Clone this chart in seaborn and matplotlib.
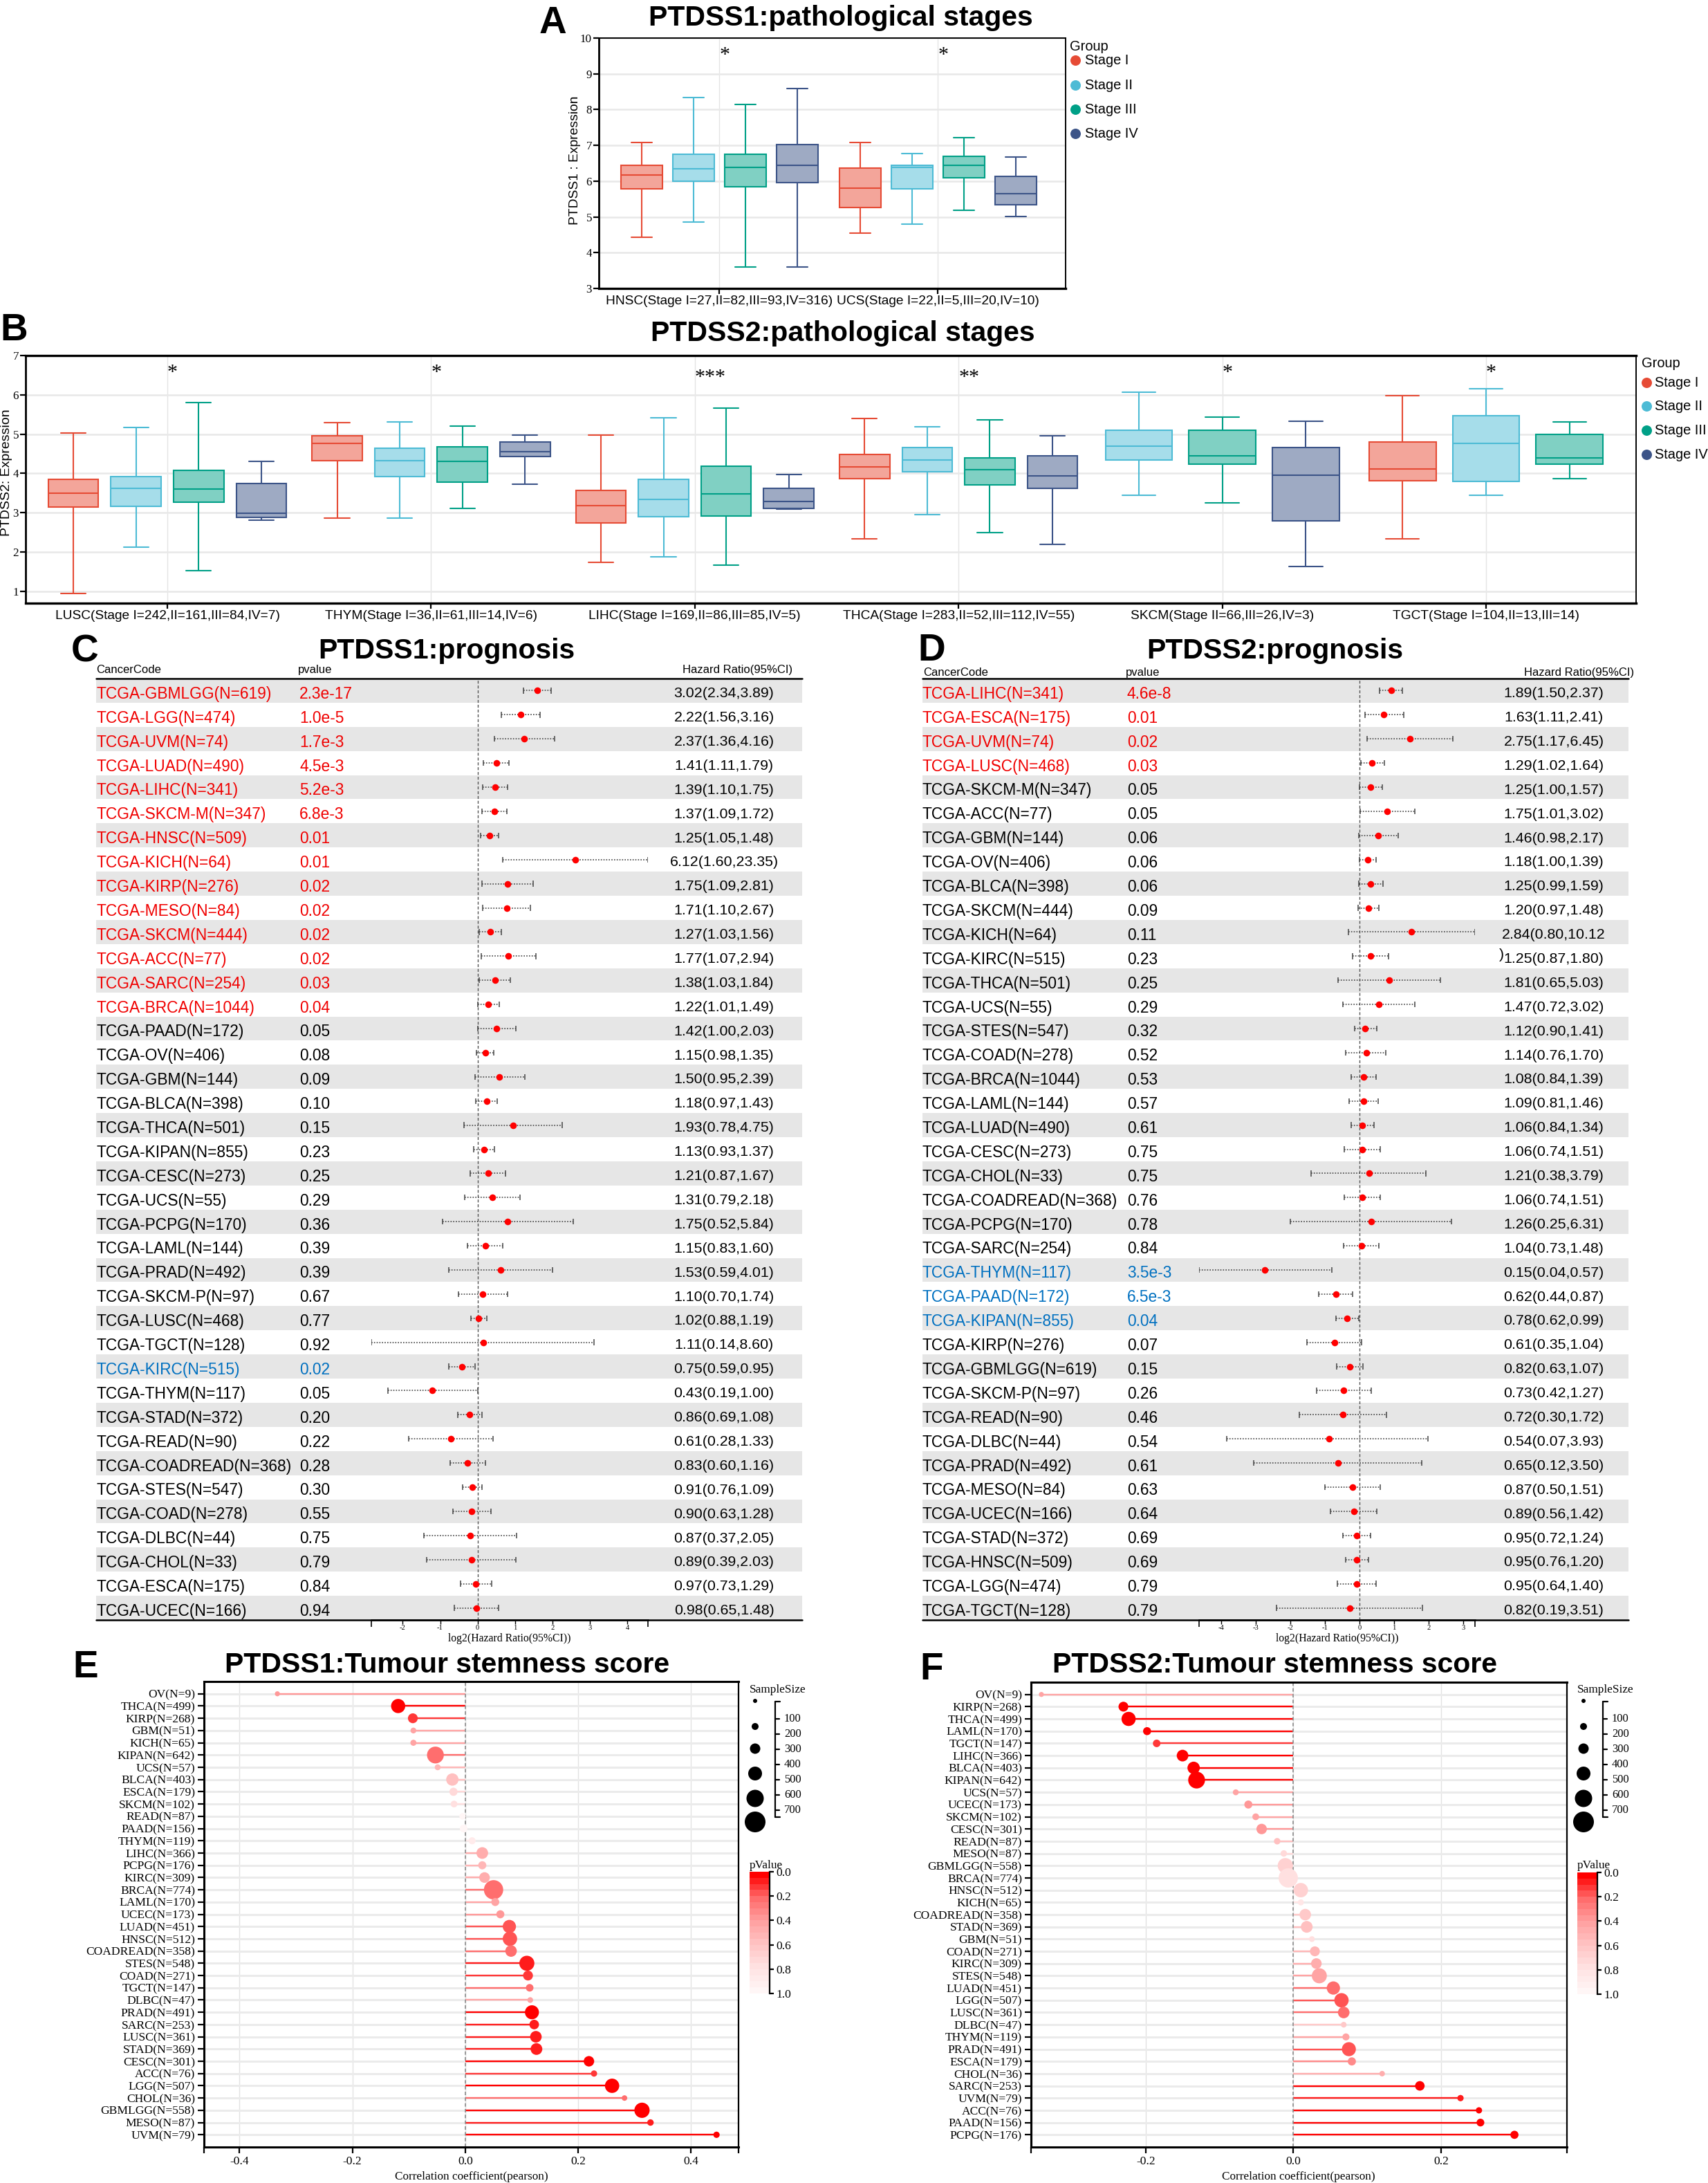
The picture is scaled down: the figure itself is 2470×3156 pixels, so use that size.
import numpy as np
import matplotlib
matplotlib.use("Agg")
import matplotlib.pyplot as plt
import seaborn as sns
from matplotlib.colors import LinearSegmentedColormap, to_rgb

# ============================ DATA ============================
stage_names = ["Stage I", "Stage II", "Stage III", "Stage IV"]

# Panel A : five-number summaries (min, q1, median, q3, max)
a_groups = ["HNSC(Stage I=27,II=82,III=93,IV=316)", "UCS(Stage I=22,II=5,III=20,IV=10)"]
a_group_stages = [[0, 1, 2, 3], [0, 1, 2, 3]]
a_hnsc = [[4.44, 5.79, 6.18, 6.44, 7.08], [4.85, 6.00, 6.34, 6.76, 8.34],
          [3.59, 5.85, 6.38, 6.75, 8.15], [3.59, 5.95, 6.45, 7.03, 8.59]]
a_ucs = [[4.55, 5.26, 5.81, 6.37, 7.08], [4.80, 5.78, 6.38, 6.45, 6.78],
         [5.19, 6.10, 6.44, 6.70, 7.21], [5.02, 5.34, 5.65, 6.14, 6.68]]
a_stars = ["*", "*"]

# Panel B
b_groups = ["LUSC(Stage I=242,II=161,III=84,IV=7)", "THYM(Stage I=36,II=61,III=14,IV=6)",
            "LIHC(Stage I=169,II=86,III=85,IV=5)", "THCA(Stage I=283,II=52,III=112,IV=55)",
            "SKCM(Stage II=66,III=26,IV=3)", "TGCT(Stage I=104,II=13,III=14)"]
b_group_stages = [[0, 1, 2, 3], [0, 1, 2, 3], [0, 1, 2, 3], [0, 1, 2, 3], [1, 2, 3], [0, 1, 2]]
b_lusc = [[0.94, 3.15, 3.49, 3.85, 5.03], [2.12, 3.16, 3.61, 3.91, 5.16],
          [1.52, 3.26, 3.60, 4.08, 5.81], [2.80, 2.88, 2.98, 3.75, 4.31]]
b_thym = [[2.87, 4.32, 4.76, 4.96, 5.29], [2.86, 3.91, 4.32, 4.64, 5.31],
          [3.11, 3.78, 4.31, 4.67, 5.21], [3.72, 4.43, 4.56, 4.79, 4.98]]
b_lihc = [[1.74, 2.74, 3.18, 3.56, 4.98], [1.87, 2.89, 3.34, 3.84, 5.41],
          [1.66, 2.92, 3.47, 4.19, 5.66], [3.09, 3.11, 3.28, 3.61, 3.97]]
b_thca = [[2.33, 3.86, 4.17, 4.48, 5.40], [2.95, 4.05, 4.34, 4.65, 5.18],
          [2.49, 3.71, 4.09, 4.40, 5.36], [2.19, 3.61, 3.93, 4.45, 4.96]]
b_skcm = [[3.45, 4.34, 4.69, 5.09, 6.06], [3.24, 4.24, 4.45, 5.09, 5.44],
          [1.62, 2.79, 3.96, 4.65, 5.33]]
b_tgct = [[2.33, 3.81, 4.11, 4.79, 5.98], [3.45, 3.80, 4.76, 5.47, 6.15],
          [3.86, 4.24, 4.40, 4.99, 5.31]]
b_stars = ["*", "*", "***", "**", "*", "*"]

# Panel C : PTDSS1 prognosis
c_labels = ["TCGA-GBMLGG(N=619)", "TCGA-LGG(N=474)", "TCGA-UVM(N=74)", "TCGA-LUAD(N=490)",
            "TCGA-LIHC(N=341)", "TCGA-SKCM-M(N=347)", "TCGA-HNSC(N=509)", "TCGA-KICH(N=64)",
            "TCGA-KIRP(N=276)", "TCGA-MESO(N=84)", "TCGA-SKCM(N=444)", "TCGA-ACC(N=77)",
            "TCGA-SARC(N=254)", "TCGA-BRCA(N=1044)", "TCGA-PAAD(N=172)", "TCGA-OV(N=406)",
            "TCGA-GBM(N=144)", "TCGA-BLCA(N=398)", "TCGA-THCA(N=501)", "TCGA-KIPAN(N=855)",
            "TCGA-CESC(N=273)", "TCGA-UCS(N=55)", "TCGA-PCPG(N=170)", "TCGA-LAML(N=144)",
            "TCGA-PRAD(N=492)", "TCGA-SKCM-P(N=97)", "TCGA-LUSC(N=468)", "TCGA-TGCT(N=128)",
            "TCGA-KIRC(N=515)", "TCGA-THYM(N=117)", "TCGA-STAD(N=372)", "TCGA-READ(N=90)",
            "TCGA-COADREAD(N=368)", "TCGA-STES(N=547)", "TCGA-COAD(N=278)", "TCGA-DLBC(N=44)",
            "TCGA-CHOL(N=33)", "TCGA-ESCA(N=175)", "TCGA-UCEC(N=166)"]
c_pvals = ["2.3e-17", "1.0e-5", "1.7e-3", "4.5e-3", "5.2e-3", "6.8e-3", "0.01", "0.01", "0.02",
           "0.02", "0.02", "0.02", "0.03", "0.04", "0.05", "0.08", "0.09", "0.10", "0.15", "0.23",
           "0.25", "0.29", "0.36", "0.39", "0.39", "0.67", "0.77", "0.92", "0.02", "0.05", "0.20",
           "0.22", "0.28", "0.30", "0.55", "0.75", "0.79", "0.84", "0.94"]
c_hr = [3.02, 2.22, 2.37, 1.41, 1.39, 1.37, 1.25, 6.12, 1.75, 1.71, 1.27, 1.77, 1.38, 1.22, 1.42,
        1.15, 1.50, 1.18, 1.93, 1.13, 1.21, 1.31, 1.75, 1.15, 1.53, 1.10, 1.02, 1.11, 0.75, 0.43,
        0.86, 0.61, 0.83, 0.91, 0.90, 0.87, 0.89, 0.97, 0.98]
c_lo = [2.34, 1.56, 1.36, 1.11, 1.10, 1.09, 1.05, 1.60, 1.09, 1.10, 1.03, 1.07, 1.03, 1.01, 1.00,
        0.98, 0.95, 0.97, 0.78, 0.93, 0.87, 0.79, 0.52, 0.83, 0.59, 0.70, 0.88, 0.14, 0.59, 0.19,
        0.69, 0.28, 0.60, 0.76, 0.63, 0.37, 0.39, 0.73, 0.65]
c_hi = [3.89, 3.16, 4.16, 1.79, 1.75, 1.72, 1.48, 23.35, 2.81, 2.67, 1.56, 2.94, 1.84, 1.49, 2.03,
        1.35, 2.39, 1.43, 4.75, 1.37, 1.67, 2.18, 5.84, 1.60, 4.01, 1.74, 1.19, 8.60, 0.95, 1.00,
        1.08, 1.33, 1.16, 1.09, 1.28, 2.05, 2.03, 1.29, 1.48]
c_sig = list("r" * 14 + "k" * 14 + "b" + "k" * 10)

# Panel D : PTDSS2 prognosis
d_labels = ["TCGA-LIHC(N=341)", "TCGA-ESCA(N=175)", "TCGA-UVM(N=74)", "TCGA-LUSC(N=468)",
            "TCGA-SKCM-M(N=347)", "TCGA-ACC(N=77)", "TCGA-GBM(N=144)", "TCGA-OV(N=406)",
            "TCGA-BLCA(N=398)", "TCGA-SKCM(N=444)", "TCGA-KICH(N=64)", "TCGA-KIRC(N=515)",
            "TCGA-THCA(N=501)", "TCGA-UCS(N=55)", "TCGA-STES(N=547)", "TCGA-COAD(N=278)",
            "TCGA-BRCA(N=1044)", "TCGA-LAML(N=144)", "TCGA-LUAD(N=490)", "TCGA-CESC(N=273)",
            "TCGA-CHOL(N=33)", "TCGA-COADREAD(N=368)", "TCGA-PCPG(N=170)", "TCGA-SARC(N=254)",
            "TCGA-THYM(N=117)", "TCGA-PAAD(N=172)", "TCGA-KIPAN(N=855)", "TCGA-KIRP(N=276)",
            "TCGA-GBMLGG(N=619)", "TCGA-SKCM-P(N=97)", "TCGA-READ(N=90)", "TCGA-DLBC(N=44)",
            "TCGA-PRAD(N=492)", "TCGA-MESO(N=84)", "TCGA-UCEC(N=166)", "TCGA-STAD(N=372)",
            "TCGA-HNSC(N=509)", "TCGA-LGG(N=474)", "TCGA-TGCT(N=128)"]
d_pvals = ["4.6e-8", "0.01", "0.02", "0.03", "0.05", "0.05", "0.06", "0.06", "0.06", "0.09",
           "0.11", "0.23", "0.25", "0.29", "0.32", "0.52", "0.53", "0.57", "0.61", "0.75", "0.75",
           "0.76", "0.78", "0.84", "3.5e-3", "6.5e-3", "0.04", "0.07", "0.15", "0.26", "0.46",
           "0.54", "0.61", "0.63", "0.64", "0.69", "0.69", "0.79", "0.79"]
d_hr = [1.89, 1.63, 2.75, 1.29, 1.25, 1.75, 1.46, 1.18, 1.25, 1.20, 2.84, 1.25, 1.81, 1.47, 1.12,
        1.14, 1.08, 1.09, 1.06, 1.06, 1.21, 1.06, 1.26, 1.04, 0.15, 0.62, 0.78, 0.61, 0.82, 0.73,
        0.72, 0.54, 0.65, 0.87, 0.89, 0.95, 0.95, 0.95, 0.82]
d_lo = [1.50, 1.11, 1.17, 1.02, 1.00, 1.01, 0.98, 1.00, 0.99, 0.97, 0.80, 0.87, 0.65, 0.72, 0.90,
        0.76, 0.84, 0.81, 0.84, 0.74, 0.38, 0.74, 0.25, 0.73, 0.04, 0.44, 0.62, 0.35, 0.63, 0.42,
        0.30, 0.07, 0.12, 0.50, 0.56, 0.72, 0.76, 0.64, 0.19]
d_hi = [2.37, 2.41, 6.45, 1.64, 1.57, 3.02, 2.17, 1.39, 1.59, 1.48, 10.12, 1.80, 5.03, 3.02, 1.41,
        1.70, 1.39, 1.46, 1.34, 1.51, 3.79, 1.51, 6.31, 1.48, 0.57, 0.87, 0.99, 1.04, 1.07, 1.27,
        1.72, 3.93, 3.50, 1.51, 1.42, 1.24, 1.20, 1.40, 3.51]
d_sig = list("r" * 4 + "k" * 20 + "b" * 3 + "k" * 12)
d_hr_text_override = {10: "2.84(0.80,10.12"}   # text is clipped in the original

# Panel E : PTDSS1 tumour stemness
e_labels = ["OV(N=9)", "THCA(N=499)", "KIRP(N=268)", "GBM(N=51)", "KICH(N=65)", "KIPAN(N=642)",
            "UCS(N=57)", "BLCA(N=403)", "ESCA(N=179)", "SKCM(N=102)", "READ(N=87)", "PAAD(N=156)",
            "THYM(N=119)", "LIHC(N=366)", "PCPG(N=176)", "KIRC(N=309)", "BRCA(N=774)",
            "LAML(N=170)", "UCEC(N=173)", "LUAD(N=451)", "HNSC(N=512)", "COADREAD(N=358)",
            "STES(N=548)", "COAD(N=271)", "TGCT(N=147)", "DLBC(N=47)", "PRAD(N=491)",
            "SARC(N=253)", "LUSC(N=361)", "STAD(N=369)", "CESC(N=301)", "ACC(N=76)", "LGG(N=507)",
            "CHOL(N=36)", "GBMLGG(N=558)", "MESO(N=87)", "UVM(N=79)"]
e_n = [9, 499, 268, 51, 65, 642, 57, 403, 179, 102, 87, 156, 119, 366, 176, 309, 774, 170, 173,
       451, 512, 358, 548, 271, 147, 47, 491, 253, 361, 369, 301, 76, 507, 36, 558, 87, 79]
e_r = [-0.333, -0.119, -0.093, -0.092, -0.092, -0.053, -0.049, -0.023, -0.021, -0.020, -0.005,
       -0.003, 0.012, 0.030, 0.030, 0.034, 0.050, 0.053, 0.062, 0.078, 0.079, 0.081, 0.109, 0.111,
       0.114, 0.115, 0.118, 0.122, 0.125, 0.126, 0.219, 0.228, 0.260, 0.282, 0.313, 0.328, 0.445]
e_p = [0.38, 0.018, 0.125, 0.42, 0.42, 0.20, 0.50, 0.58, 0.72, 0.78, 0.95, 0.95, 0.85, 0.49, 0.52,
       0.49, 0.20, 0.43, 0.385, 0.175, 0.175, 0.23, 0.057, 0.14, 0.23, 0.40, 0.045, 0.08, 0.08,
       0.08, 0.018, 0.14, 0.011, 0.20, 0.004, 0.057, 0.018]

# Panel F : PTDSS2 tumour stemness
f_labels = ["OV(N=9)", "KIRP(N=268)", "THCA(N=499)", "LAML(N=170)", "TGCT(N=147)", "LIHC(N=366)",
            "BLCA(N=403)", "KIPAN(N=642)", "UCS(N=57)", "UCEC(N=173)", "SKCM(N=102)",
            "CESC(N=301)", "READ(N=87)", "MESO(N=87)", "GBMLGG(N=558)", "BRCA(N=774)",
            "HNSC(N=512)", "KICH(N=65)", "COADREAD(N=358)", "STAD(N=369)", "GBM(N=51)",
            "COAD(N=271)", "KIRC(N=309)", "STES(N=548)", "LUAD(N=451)", "LGG(N=507)",
            "LUSC(N=361)", "DLBC(N=47)", "THYM(N=119)", "PRAD(N=491)", "ESCA(N=179)",
            "CHOL(N=36)", "SARC(N=253)", "UVM(N=79)", "ACC(N=76)", "PAAD(N=156)", "PCPG(N=176)"]
f_n = [9, 268, 499, 170, 147, 366, 403, 642, 57, 173, 102, 301, 87, 87, 558, 774, 512, 65, 358,
       369, 51, 271, 309, 548, 451, 507, 361, 47, 119, 491, 179, 36, 253, 79, 76, 156, 176]
f_r = [-0.341, -0.230, -0.223, -0.198, -0.185, -0.150, -0.135, -0.131, -0.078, -0.061, -0.051,
       -0.043, -0.022, -0.013, -0.011, -0.007, 0.010, 0.010, 0.016, 0.018, 0.025, 0.029, 0.031,
       0.035, 0.054, 0.065, 0.068, 0.068, 0.071, 0.075, 0.079, 0.120, 0.171, 0.226, 0.251, 0.253,
       0.299]
f_p = [0.40, 0.007, 0.004, 0.037, 0.115, 0.022, 0.03, 0.004, 0.40, 0.37, 0.44, 0.385, 0.56, 0.72,
       0.68, 0.75, 0.68, 0.83, 0.61, 0.58, 0.75, 0.51, 0.49, 0.42, 0.23, 0.175, 0.20, 0.64, 0.43,
       0.16, 0.30, 0.47, 0.007, 0.09, 0.037, 0.022, 0.004]

size_legend_levels = [100, 200, 300, 400, 500, 600, 700]
pvalue_ticks = [0.0, 0.2, 0.4, 0.6, 0.8, 1.0]

# ============================ STYLE ============================
W, H, DPI = 2470, 3156, 200
PT = 72.0 / DPI


def fs(px):
    return px * PT


SANS = ["Liberation Sans", "DejaVu Sans"]
SERIF = ["Liberation Serif", "DejaVu Serif"]

sns.set_theme(style="white")
plt.rcParams["font.family"] = SANS
plt.rcParams["axes.unicode_minus"] = False
for k in ["text.color", "axes.labelcolor", "xtick.color", "ytick.color", "axes.edgecolor"]:
    plt.rcParams[k] = "black"

stage_colors = ["#E64B35", "#4DBBD5", "#00A087", "#3C5488"]
pcmap = LinearSegmentedColormap.from_list(
    "pv", [(0.0, "#FF0000"), (0.2, "#FF6B6B"), (0.4, "#FFA0A0"), (0.6, "#FFC4C4"),
           (0.8, "#FFE2E2"), (1.0, "#FFF6F6")], N=20)

fig = plt.figure(figsize=(W / DPI, H / DPI), dpi=DPI, facecolor="white")


def px_axes(x0, y0, x1, y1, **kw):
    return fig.add_axes([x0 / W, 1 - y1 / H, (x1 - x0) / W, (y1 - y0) / H], **kw)


def light(c, f=0.5):
    r, g, b = to_rgb(c)
    return (r * f + (1 - f), g * f + (1 - f), b * f + (1 - f))


# ============================ BOX PANELS ============================
def box_panel(rect, groups, stage_sets, summaries, stars, star_tops, xlim, ylim, yticks):
    ax = px_axes(*rect)
    for gi, (stg, summ) in enumerate(zip(stage_sets, summaries)):
        n = len(stg)
        slot = 0.95 / n
        for j, (k, five) in enumerate(zip(stg, summ)):
            pos = gi + (j - (n - 1) / 2) * slot
            sns.boxplot(x=np.full(len(five), pos), y=five, native_scale=True, orient="x",
                        width=0.8 * slot, whis=(0, 100), color=light(stage_colors[k]),
                        linecolor=stage_colors[k], saturation=1, linewidth=0.75,
                        showfliers=False, ax=ax)
    for gi, s in enumerate(stars):
        ax.text(gi, star_tops[0] if s == "*" else star_tops[1], s, ha="left", va="top",
                fontfamily=SERIF, fontsize=fs(30), zorder=5)
    ax.set_xlim(*xlim)
    ax.set_ylim(*ylim)
    ax.set_xticks(range(len(groups)))
    ax.set_xticklabels(groups, fontsize=fs(19.2))
    ax.set_yticks(yticks)
    ax.set_yticklabels([str(v) for v in yticks], fontfamily=SERIF, fontsize=fs(17))
    ax.set_xlabel("")
    ax.set_ylabel("")
    ax.set_axisbelow(True)
    ax.yaxis.grid(True, color="#E8E8E8", lw=0.9)
    ax.xaxis.grid(True, color="#E4E4E4", lw=0.5)
    ax.tick_params(axis="both", which="major", direction="out", length=fs(8), width=0.8,
                   bottom=True, left=True, pad=fs(2))
    for s in ax.spines.values():
        s.set_color("black")
        s.set_linewidth(0.7)
    ax.spines["bottom"].set_linewidth(1.2)
    ax.spines["left"].set_linewidth(1.0)
    return ax


box_panel((866, 55, 1541, 417), a_groups, a_group_stages, [a_hnsc, a_ucs], a_stars,
          (9.77, 9.77), (-0.551, 1.585), (3, 10), list(range(3, 11)))
axB = box_panel((37, 514, 2366, 872), b_groups, b_group_stages,
                [b_lusc, b_thym, b_lihc, b_thca, b_skcm, b_tgct], b_stars,
                (6.79, 6.67), (-0.5375, 5.569), (0.695, 7.0), list(range(1, 8)))
axB.spines["top"].set_linewidth(1.2)

# ============================ FOREST PANELS ============================
sig_colors = {"r": "#F00000", "b": "#0070C0", "k": "black"}
TY0, TY1 = 981, 2342


def forest_panel(tx0, tx1, fx0, fx1, labels, pvals, hr, lo, hi, sig, pv_x, hr_x, override):
    n = len(labels)
    idx = np.arange(n)
    tab = px_axes(tx0, TY0, tx1, TY1)
    tab.set_xlim(tx0, tx1)
    tab.set_ylim(n - 0.5, -0.5)
    tab.axis("off")
    for i in range(0, n, 2):
        tab.axhspan(i - 0.5, i + 0.5, color="#E6E6E6", lw=0, zorder=0)
    tab.axhline(-0.5, color="black", lw=0.9, clip_on=False)
    tab.axhline(n - 0.5, color="black", lw=0.9, clip_on=False)
    for i in range(n):
        c = sig_colors[sig[i]]
        tab.text(tx0, i + 0.14, labels[i], color=c, fontsize=fs(22.7), ha="left", va="center")
        tab.text(pv_x, i + 0.14, pvals[i], color=c, fontsize=fs(22.7), ha="left", va="center")
        txt = override.get(i, f"{hr[i]:.2f}({lo[i]:.2f},{hi[i]:.2f})")
        tab.text(hr_x, i + 0.12, txt, color="black", fontsize=fs(21.4), ha="center",
                 va="center")

    lhr, llo, lhi = np.log2(hr), np.log2(lo), np.log2(hi)
    fr = px_axes(fx0, TY0, fx1, TY1)
    fr.patch.set_visible(False)
    xmin, xmax = llo.min(), lhi.max()
    fr.set_xlim(xmin, xmax)
    fr.set_ylim(n - 0.5, -0.5)
    fr.axvline(0, color="#555555", ls=(0, (3, 2)), lw=0.5, zorder=1)
    fr.hlines(idx, llo, lhi, colors="#444444", linestyles=(0, (1, 1.3)), lw=0.6, zorder=2)
    fr.vlines(llo, idx - 0.12, idx + 0.12, colors="#444444", lw=0.55, zorder=2)
    fr.vlines(lhi, idx - 0.12, idx + 0.12, colors="#444444", lw=0.55, zorder=2)
    sns.scatterplot(x=lhr, y=idx, color="#FF0000", s=fs(9.6) ** 2, linewidth=0, ax=fr,
                    zorder=3, legend=False)
    for s in ["top", "right", "left"]:
        fr.spines[s].set_visible(False)
    fr.spines["bottom"].set_color("black")
    fr.spines["bottom"].set_linewidth(0.9)
    ticks = np.arange(np.ceil(xmin), np.floor(xmax) + 1).astype(int)
    fr.set_xticks(ticks)
    fr.set_xticklabels([str(t) for t in ticks], fontfamily=SERIF, fontsize=fs(10.5))
    fr.set_xticks([xmin, xmax], minor=True)
    fr.set_yticks([])
    fr.tick_params(axis="x", which="major", bottom=True, direction="out", length=fs(6),
                   width=0.5, pad=fs(1.5))
    fr.tick_params(axis="x", which="minor", bottom=True, direction="out", length=fs(10),
                   width=0.6)
    fr.set_xlabel("")
    fr.set_ylabel("")
    return tab


forest_panel(139, 1160, 537, 937, c_labels, c_pvals, c_hr, c_lo, c_hi, c_sig, 433, 1047, {})
tabD = forest_panel(1334, 2355, 1734, 2133, d_labels, d_pvals, d_hr, d_lo, d_hi, d_sig, 1630,
                    2247, d_hr_text_override)
tabD.text(2168, 11 - 0.05, ")", fontsize=fs(21.4), ha="left", va="center")

# ============================ LOLLIPOP PANELS ============================
def dot_area(nv):
    return (fs(7 + 0.027 * nv)) ** 2


def lolli_panel(rect, labels, r, p, n, xlim, xticks):
    ax = px_axes(*rect)
    m = len(labels)
    idx = np.arange(m)
    ax.set_xlim(*xlim)
    ax.set_ylim(m, -1)
    ax.set_axisbelow(True)
    ax.yaxis.grid(True, color="#EBEBEB", lw=1.1)
    ax.xaxis.grid(True, color="#E2E2E2", lw=0.5)
    line_cols = [pcmap(v) for v in p]
    ax.hlines(idx, 0, r, colors=line_cols, lw=0.85, zorder=2)
    ax.axvline(0, color="#8A8A8A", ls=(0, (3, 2)), lw=0.6, zorder=2.5)
    sns.scatterplot(x=r, y=idx, hue=p, hue_norm=(0, 1), palette=pcmap, size=n,
                    sizes={v: dot_area(v) for v in set(n)}, legend=False, linewidth=0,
                    ax=ax, zorder=3)
    ax.set_yticks(idx)
    ax.set_yticklabels(labels, fontfamily=SERIF, fontsize=fs(17.5))
    ax.set_xticks(xticks)
    ax.set_xticklabels([f"{t:.1f}" for t in xticks], fontfamily=SERIF, fontsize=fs(17.5))
    ax.set_xticks(list(xlim), minor=True)
    ax.tick_params(axis="both", which="both", direction="out", length=fs(9), width=0.8,
                   bottom=True, left=True, pad=fs(4))
    ax.set_xlabel("")
    ax.set_ylabel("")
    for s in ax.spines.values():
        s.set_color("black")
        s.set_linewidth(1.1)
    ax.spines["right"].set_linewidth(0.8)
    return ax


lolli_panel((295, 2431, 1068, 3104), e_labels, e_r, e_p, e_n, (-0.463, 0.484),
            [-0.4, -0.2, 0.0, 0.2, 0.4])
lolli_panel((1491, 2432, 2266, 3104), f_labels, f_r, f_p, f_n, (-0.355, 0.370),
            [-0.2, 0.0, 0.2])


def pvalue_bar(x0, y0, x1, y1):
    cax = px_axes(x0, y0, x1, y1)
    cax.imshow(np.linspace(0, 1, 400).reshape(-1, 1), cmap=pcmap, aspect="auto",
               extent=(0, 1, 1, 0), vmin=0, vmax=1, interpolation="nearest")
    cax.set_xticks([])
    cax.yaxis.tick_right()
    cax.set_yticks(pvalue_ticks)
    cax.set_yticklabels([f"{v:.1f}" for v in pvalue_ticks], fontfamily=SERIF,
                        fontsize=fs(17.5))
    for s in ["left", "top", "bottom"]:
        cax.spines[s].set_visible(False)
    cax.spines["right"].set_color("black")
    cax.spines["right"].set_linewidth(0.8)
    cax.tick_params(axis="y", right=True, left=False, length=fs(6), width=0.8, pad=fs(3))


pvalue_bar(1084, 2706, 1113, 2882)
pvalue_bar(2281, 2707, 2310, 2883)

# ============================ OVERLAY (titles, legends) ============================
ov = fig.add_axes([0, 0, 1, 1], zorder=20)
ov.set_xlim(0, W)
ov.set_ylim(H, 0)
ov.axis("off")

TITLE = dict(ha="center", va="baseline", fontsize=fs(41), fontweight="bold")
LETTER = dict(ha="left", va="baseline", fontsize=fs(55), fontweight="bold")
ov.text(1216, 37, "PTDSS1:pathological stages", **TITLE)
ov.text(780, 48, "A", **LETTER)
ov.text(1219, 493, "PTDSS2:pathological stages", **TITLE)
ov.text(0, 492, "B", **LETTER)
ov.text(646, 952, "PTDSS1:prognosis", **TITLE)
ov.text(103, 956, "C", **LETTER)
ov.text(1844, 952, "PTDSS2:prognosis", **TITLE)
ov.text(1327, 955, "D", **LETTER)
ov.text(647, 2418, "PTDSS1:Tumour stemness score", **TITLE)
ov.text(105, 2425, "E", **LETTER)
ov.text(1843, 2418, "PTDSS2:Tumour stemness score", **TITLE)
ov.text(1330, 2428, "F", **LETTER)

# y labels of box panels
ov.text(831, 232, "PTDSS1 : Expression", rotation=90, ha="center", va="center",
        fontsize=fs(19.3))
ov.text(10, 683, "PTDSS2: Expression", rotation=90, ha="center", va="center",
        fontsize=fs(19.5))

# Group legends
def group_legend(xt, yt, xm, xl, ys):
    ov.text(xt, yt, "Group", ha="left", va="center", fontsize=fs(20))
    for k, yy in enumerate(ys):
        ov.scatter([xm], [yy], s=fs(15) ** 2, color=stage_colors[k], linewidths=0)
        ov.text(xl, yy, stage_names[k], ha="left", va="center", fontsize=fs(20))


group_legend(1547, 67, 1555, 1569, [87, 123, 158, 193])
group_legend(2374, 525, 2381, 2393, [553, 587, 622, 657])

# forest headers and x labels
HDR = dict(va="baseline", fontsize=fs(16.6))
ov.text(139, 973, "CancerCode", ha="left", **HDR)
ov.text(431, 973, "pvalue", ha="left", **HDR)
ov.text(1146, 973, "Hazard Ratio(95%CI)", ha="right", **HDR)
ov.text(1335, 977, "CancerCode", ha="left", **HDR)
ov.text(1628, 977, "pvalue", ha="left", **HDR)
ov.text(2363, 977, "Hazard Ratio(95%CI)", ha="right", **HDR)
ov.text(737, 2369, "log2(Hazard Ratio(95%CI))", ha="center", va="center",
        fontfamily=SERIF, fontsize=fs(15.8))
ov.text(1934, 2369, "log2(Hazard Ratio(95%CI))", ha="center", va="center",
        fontfamily=SERIF, fontsize=fs(15.8))

# lollipop x labels
ov.text(682, 3147, "Correlation coefficient(pearson)", ha="center", va="center",
        fontfamily=SERIF, fontsize=fs(17.3))
ov.text(1878, 3147, "Correlation coefficient(pearson)", ha="center", va="center",
        fontfamily=SERIF, fontsize=fs(17.3))

# sample-size legends and pValue titles
def size_legend(xt, xd, xline):
    ov.text(xt, 2443, "SampleSize", ha="left", va="center", fontfamily=SERIF,
            fontsize=fs(17.3))
    dot_y = [2459, 2496, 2528, 2564, 2600, 2634]
    dot_d = [6, 10, 15, 20, 25, 30]
    ov.scatter([xd] * len(dot_y), dot_y, s=[fs(d) ** 2 for d in dot_d], color="black",
               linewidths=0)
    ov.plot([xline, xline], [2460, 2627], color="black", lw=0.8)
    for yy in (2460, 2627):
        ov.plot([xline, xline + 7], [yy, yy], color="black", lw=0.8)
    lab_y = np.linspace(2485, 2617, len(size_legend_levels))
    for v, yy in zip(size_legend_levels, lab_y):
        ov.plot([xline, xline + 6], [yy, yy], color="black", lw=0.8)
        ov.text(xline + 13, yy, str(v), ha="left", va="center", fontfamily=SERIF,
                fontsize=fs(16.5))
    ov.text(xt, 2697, "pValue", ha="left", va="center", fontfamily=SERIF, fontsize=fs(17.3))


size_legend(1084, 1092, 1121)
size_legend(2281, 2290, 2318)

fig.savefig("out.png", dpi=DPI, facecolor="white")
